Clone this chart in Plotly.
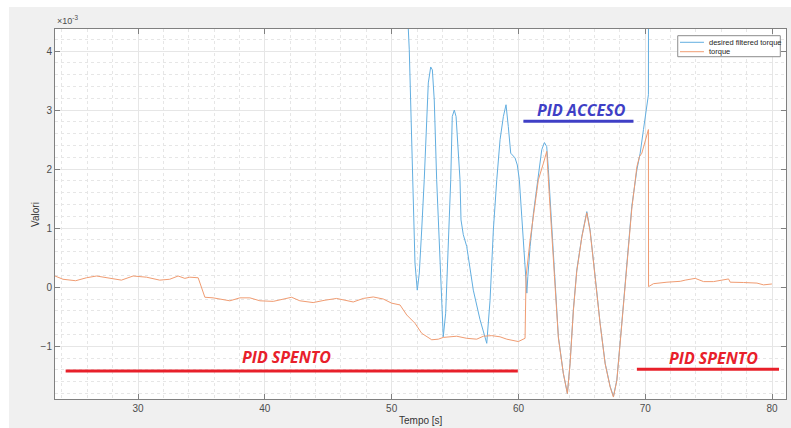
import plotly.graph_objects as go

# Time axis [s] and values (x 10^-3) for each signal
t_torque = [23.45, 24.08, 25.08, 25.93, 26.72, 28.03, 28.69, 29.61, 30.66, 31.71,
            32.5, 33.16, 33.69, 34.08, 34.74, 35.27, 35.92, 37.24, 38.03, 38.82,
            39.61, 40.66, 42.11, 42.76, 43.81, 44.74, 45.66, 46.97, 47.76, 48.55,
            49.34, 50.0, 50.66, 51.19, 51.84, 52.37, 53.16, 53.68, 54.07, 55.13,
            55.92, 56.71, 57.23, 57.89, 58.55, 59.08, 59.99, 60.52, 60.6, 60.92,
            61.18, 61.57, 61.97, 62.23, 62.44, 62.63, 62.89, 63.15, 63.54, 63.86,
            64.07, 64.33, 64.6, 65.0, 65.39, 65.65, 66.05, 66.44, 66.84, 67.23,
            67.49, 67.76, 68.15, 68.55, 68.94, 69.34, 69.54, 69.73, 70.25, 70.26,
            70.65, 71.71, 72.76, 73.15, 73.94, 74.6, 75.38, 76.57, 76.7, 77.75,
            78.81, 79.33, 79.99]
torque = [0.19, 0.135, 0.11, 0.16, 0.19, 0.15, 0.12, 0.19, 0.17, 0.12,
          0.135, 0.19, 0.15, 0.17, 0.16, -0.17, -0.18, -0.23, -0.18, -0.18,
          -0.23, -0.24, -0.17, -0.23, -0.26, -0.22, -0.19, -0.25, -0.19, -0.165,
          -0.2, -0.27, -0.30, -0.47, -0.61, -0.78, -0.89, -0.88, -0.85, -0.83,
          -0.865, -0.88, -0.83, -0.82, -0.84, -0.88, -0.92, -0.865, 0.18, 0.8,
          1.2, 1.82, 2.1, 2.3, 1.54, 0.9, -0.1, -0.86, -1.46, -1.8,
          -1.3, -0.4, 0.27, 0.85, 1.26, 0.95, 0.16, -0.62, -1.3, -1.69,
          -1.86, -1.58, -0.63, 0.39, 1.33, 2.04, 2.21, 2.27, 2.67, 0.01,
          0.06, 0.085, 0.1, 0.12, 0.15, 0.095, 0.095, 0.14, 0.085, 0.08,
          0.07, 0.04, 0.055]

t_desired = [51.28, 51.31, 51.39, 51.66, 51.71, 51.84, 52.02, 52.18, 52.37, 52.57,
             52.89, 53.08, 53.21, 53.36, 53.55, 53.76, 53.95, 54.07, 54.26, 54.47,
             54.66, 54.78, 54.94, 55.08, 55.26, 55.39, 55.47, 55.65, 55.92, 56.44,
             56.97, 57.5, 57.76, 58.02, 58.29, 58.55, 58.81, 59.02, 59.2, 59.39,
             59.73, 59.91, 60.07, 60.26, 60.52, 60.66, 60.74, 60.92, 61.18, 61.57,
             61.84, 62.05, 62.23, 62.36, 62.63, 62.89, 63.15, 63.54, 63.86, 64.07,
             64.33, 64.6, 65.0, 65.39, 65.65, 66.05, 66.44, 66.84, 67.23, 67.49,
             67.76, 68.15, 68.55, 68.94, 69.34, 69.6, 69.86, 70.25, 70.26]
desired = [5.5, 4.39, 4.02, 1.82, 1.25, 0.41, -0.05, 0.24, 0.97, 1.82,
           3.46, 3.73, 3.68, 3.17, 1.82, 0.69, -0.44, -0.84, -0.44, 0.69,
           1.82, 2.89, 3.0, 2.89, 2.33, 1.82, 1.14, 0.89, 0.69, -0.05,
           -0.55, -0.95, -0.22, 0.97, 1.82, 2.5, 2.89, 3.09, 2.72, 2.27,
           2.19, 2.07, 1.82, 1.14, 0.35, -0.1, 0.18, 0.69, 1.25, 1.93,
           2.33, 2.45, 2.38, 1.99, 0.97, -0.05, -0.84, -1.46, -1.8, -1.29,
           -0.38, 0.29, 0.86, 1.28, 0.97, 0.18, -0.61, -1.29, -1.68, -1.85,
           -1.57, -0.61, 0.41, 1.37, 1.99, 2.27, 2.67, 3.26, 6.0]

x_ticks = [30, 40, 50, 60, 70, 80]
y_ticks = [-1, 0, 1, 2, 3, 4]
x_range = [23.45, 81.1]
y_range = [-1.893, 4.373]

BLUE = "#62aee0"
ORANGE = "#f09c72"
RED = "#e8202a"
INDIGO = "#3f3fc6"
AX = "#808080"
FONT = "Liberation Sans, Arial, sans-serif"

fig = go.Figure()
fig.add_trace(go.Scatter(x=t_desired, y=desired, mode="lines",
                         name="desired filtered torque",
                         line=dict(color=BLUE, width=1)))
fig.add_trace(go.Scatter(x=t_torque, y=torque, mode="lines", name="torque",
                         line=dict(color=ORANGE, width=1)))

axis_common = dict(
    showline=True, linecolor=AX, linewidth=1, mirror="ticks",
    ticks="inside", ticklen=5, tickcolor=AX,
    showgrid=True, gridcolor="#e6e6e6", gridwidth=1,
    zeroline=False,
    tickfont=dict(family=FONT, size=10, color="#4d4d4d"),
)

fig.update_xaxes(range=x_range, tickvals=x_ticks, **axis_common,
                 minor=dict(dtick=2, tick0=0, showgrid=True,
                            gridcolor="#e6e6e6", griddash="dot"))
fig.update_yaxes(range=y_range, tickvals=y_ticks, **axis_common,
                 minor=dict(dtick=0.2, tick0=0, showgrid=True,
                            gridcolor="#e6e6e6", griddash="dot"))

# Phase labels and their underline bars
labels = [
    dict(text="PID SPENTO", x=41.74, y=-1.176, color=RED, bar=(24.29, 59.95, -1.42)),
    dict(text="PID SPENTO", x=75.42, y=-1.20, color=RED, bar=(69.34, 80.55, -1.39)),
    dict(text="PID ACCESO", x=64.94, y=3.0, color=INDIGO, bar=(60.39, 69.07, 2.81)),
]
for lb in labels:
    fig.add_annotation(x=lb["x"], y=lb["y"], xref="x", yref="y",
                       text="<b><i>" + lb["text"] + "</i></b>", showarrow=False,
                       font=dict(family="Open Sans, sans-serif", size=16, color=lb["color"]))
    x0, x1, yb = lb["bar"]
    fig.add_shape(type="line", xref="x", yref="y", x0=x0, x1=x1, y0=yb, y1=yb,
                  line=dict(color=lb["color"], width=3))

# Exponent marker, axis titles
fig.add_annotation(x=0, y=1.0, xref="paper", yref="paper", xanchor="left", yanchor="bottom",
                   yshift=1, text="\u00d710<sup>-3</sup>", showarrow=False,
                   font=dict(family=FONT, size=9, color="#4d4d4d"))
fig.add_annotation(x=-0.0254, y=0.5, xref="paper", yref="paper", text="Valori",
                   textangle=-90, showarrow=False, xshift=-9,
                   font=dict(family=FONT, size=10, color="#333333"))
fig.add_annotation(x=0.5, y=-0.059, xref="paper", yref="paper", yanchor="middle",
                   text="Tempo [s]", showarrow=False,
                   font=dict(family=FONT, size=10, color="#333333"))

# Boxed legend in the upper right corner
leg_x0, leg_x1, leg_y0, leg_y1 = 0.8519, 0.9922, 0.9251, 0.9819
fig.add_shape(type="rect", xref="paper", yref="paper", x0=leg_x0, x1=leg_x1,
              y0=leg_y0, y1=leg_y1, fillcolor="white",
              line=dict(color="#8c8c8c", width=1))
legend_rows = [("desired filtered torque", BLUE, 0.9641), ("torque", ORANGE, 0.9386)]
for name, col, ly in legend_rows:
    fig.add_shape(type="line", xref="paper", yref="paper", x0=0.855, x1=0.8878,
                  y0=ly, y1=ly, line=dict(color=col, width=1))
    fig.add_annotation(x=0.8919, y=ly, xref="paper", yref="paper", xanchor="left",
                       yanchor="middle", text=name, showarrow=False,
                       font=dict(family=FONT, size=7.5, color="#262626"))

# White border strips at the top and left edge of the figure
fig.add_shape(type="rect", xref="paper", yref="paper", x0=-0.1, x1=-0.0629, y0=-0.2, y1=1.2,
              fillcolor="white", line_width=0, layer="below")
fig.add_shape(type="rect", xref="paper", yref="paper", x0=-0.1, x1=1.1, y0=1.0595, y1=1.2,
              fillcolor="white", line_width=0, layer="below")

fig.update_layout(
    width=791, height=428,
    margin=dict(l=55, r=5, t=29, b=29),
    paper_bgcolor="#f0f0f0", plot_bgcolor="white",
    font=dict(family=FONT),
    showlegend=False,
)

fig.write_html("out.html")
